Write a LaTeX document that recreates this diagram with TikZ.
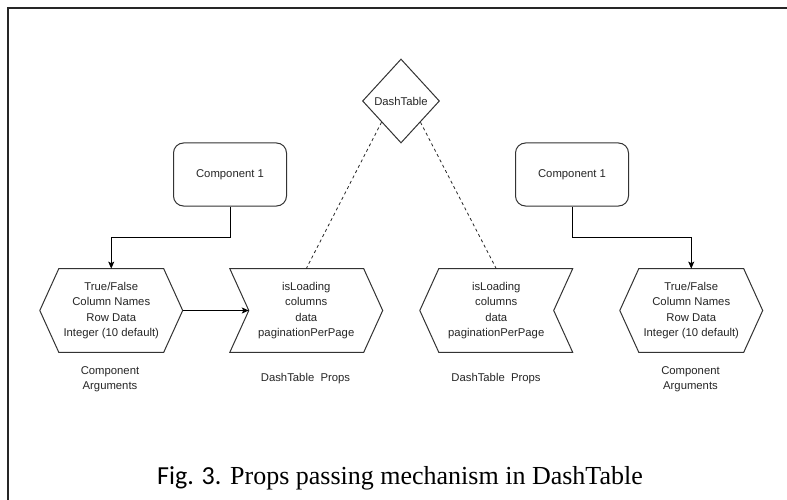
\documentclass[tikz,border=0pt]{standalone}
\usepackage{fontspec}
\setmainfont{Liberation Sans}
\newfontfamily\captionserif{Liberation Serif}
\newfontfamily\captionsans{Carlito}
\usetikzlibrary{shapes.geometric,arrows.meta}

% outlines drawn around plain text nodes
\newcommand{\hexoutline}[1]{%
  \draw[outline] ([xshift=19pt]#1.north west) -- ([xshift=-19pt]#1.north east) -- (#1.east)
    -- ([xshift=-19pt]#1.south east) -- ([xshift=19pt]#1.south west) -- (#1.west) -- cycle;}
\newcommand{\stepright}[1]{%
  \draw[outline] (#1.north west) -- ([xshift=-19pt]#1.north east) -- (#1.east)
    -- ([xshift=-19pt]#1.south east) -- (#1.south west) -- ([xshift=19pt]#1.west) -- cycle;}
\newcommand{\stepleft}[1]{%
  \draw[outline] ([xshift=19pt]#1.north west) -- (#1.north east) -- ([xshift=-19pt]#1.east)
    -- (#1.south east) -- ([xshift=19pt]#1.south west) -- (#1.west) -- cycle;}

\begin{document}
\begin{tikzpicture}[x=1pt,y=-1pt,
  txt/.style={font=\fontsize{11.3}{15.3}\selectfont, text=black!85, align=center},
  box/.style={txt, draw=black!80, line width=1pt, rounded corners=10pt,
    minimum width=113pt, minimum height=63pt, inner sep=0pt},
  dia/.style={txt, shape=diamond, draw=black!80, line width=1pt,
    minimum width=77pt, minimum height=84pt, inner sep=0pt},
  slot/.style={txt, inner sep=0pt, minimum height=83.3pt},
  outline/.style={draw=black!80, line width=1pt, line join=miter},
  arr/.style={draw=black, line width=1pt, -{Stealth[length=7pt,width=6pt,inset=1.5pt]}},
  link/.style={draw=black!85, line width=0.8pt, dash pattern=on 3pt off 3pt},
  note/.style={txt}]

\useasboundingbox (0,0) rectangle (787,500);
\fill[white] (0,0) rectangle (787,500);
\draw[line width=2pt, black!85] (8,500) -- (8,8) -- (787,8);

% top-level table
\node[dia] (dt) at (401,101) {DashTable};

% components
\node[box] (c1) at (230,174.5) {Component 1};
\node[box] (c2) at (572,174.5) {Component 1};

% argument and prop shapes
\node[slot, minimum width=142.5pt] (h1) at (111.25,310.5)
  {True/False\\Column Names\\Row Data\\Integer (10 default)};
\node[slot, minimum width=152.5pt] (p1) at (306.25,310.5)
  {isLoading\\columns\\data\\paginationPerPage};
\node[slot, minimum width=152.5pt] (p2) at (496.25,310.5)
  {isLoading\\columns\\data\\paginationPerPage};
\node[slot, minimum width=142.5pt] (h2) at (691.25,310.5)
  {True/False\\Column Names\\Row Data\\Integer (10 default)};

\hexoutline{h1}
\stepright{p1}
\stepleft{p2}
\hexoutline{h2}

% captions under the shapes
\node[note] (l1) at (110,379.5) {Component\\Arguments};
\node[note] (l2) at (305.5,379) {DashTable\ \ Props};
\node[note] (l3) at (496,379) {DashTable\ \ Props};
\node[note] (l4) at (690.5,379.5) {Component\\Arguments};

% connectors
\draw[arr] (c1.south) -- ++(0,31) -| (h1.north);
\draw[arr] (c2.south) -- ++(0,31) -| (h2.north);
\draw[arr] (h1.east) -- ([xshift=19pt]p1.west);
\draw[link] (dt.south west) -- (p1.north);
\draw[link] (dt.south east) -- (p2.north);

% figure caption
\node[anchor=base, font=\captionserif\fontsize{26}{30}\selectfont, text=black, inner sep=0pt]
  (cap) at (400,484) {{\captionsans Fig. 3.} Props passing mechanism in DashTable};
\end{tikzpicture}
\end{document}
